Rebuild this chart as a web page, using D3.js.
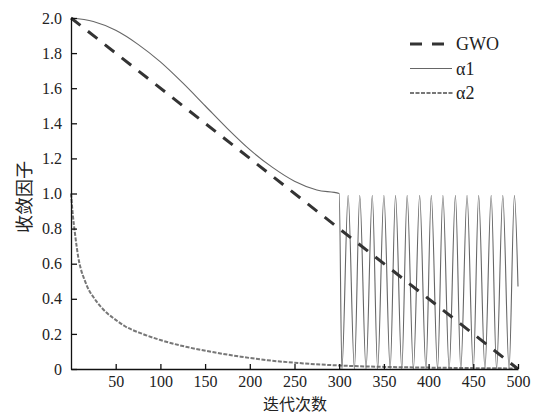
<!DOCTYPE html>
<html>
<head>
<meta charset="utf-8">
<script src="https://cdn.jsdelivr.net/npm/d3@7"></script>
<style>
  body { margin: 0; background: #fff; }
  svg { display: block; }
  .axis path, .axis line { stroke: #111; stroke-width: 1.3; }
</style>
</head>
<body>
<div id="chart"></div>
<script>
/// values
var gwoIter = [0, 500];
var gwoVal = [2.0, 0.0];

var a1Iter = [0, 25, 50, 75, 100, 125, 150, 175, 200, 225, 250, 275, 300,
    303, 310, 317, 323, 330, 337, 343, 350, 357, 363, 370, 376, 383, 390,
    397, 403, 410, 416, 423, 430, 436, 443, 450, 456, 463, 470, 476, 483,
    490, 496, 500];
var a1Val = [2.0, 1.98, 1.93, 1.85, 1.75, 1.63, 1.5, 1.37, 1.25, 1.15, 1.07, 1.02, 1.0,
    0.0, 0.99, 0.0, 0.99, 0.0, 0.99, 0.0, 0.99, 0.0, 0.99, 0.0, 0.99, 0.0, 0.99,
    0.0, 0.99, 0.0, 0.99, 0.0, 0.99, 0.0, 0.99, 0.0, 0.99, 0.0, 0.99, 0.0, 0.99,
    0.0, 0.99, 0.47];

var a2Iter = [0, 2, 4, 6, 8, 11, 15, 20, 25, 30, 40, 50, 60, 80, 100, 130, 160, 190, 220, 260, 300, 350, 400, 450, 500];
var a2Val = [1.0, 0.88, 0.79, 0.71, 0.64, 0.57, 0.51, 0.45, 0.41, 0.375, 0.32, 0.28, 0.245, 0.2, 0.165, 0.125, 0.095, 0.07, 0.05, 0.032, 0.02, 0.012, 0.008, 0.005, 0.003];

var yTicks = [0, 0.2, 0.4, 0.6, 0.8, 1.0, 1.2, 1.4, 1.6, 1.8, 2.0];
var xTicks = [50, 100, 150, 200, 250, 300, 350, 400, 450, 500];
var legendNames = ["GWO", "α1", "α2"];

/// SVG wrapper
var svgWidth = 536;
var svgHeight = 417;

var svg = d3.select("#chart")
    .append("svg")
    .attr("width", svgWidth)
    .attr("height", svgHeight);

var xScale = d3.scaleLinear().domain([0, 500]).range([71, 518]);
var yScale = d3.scaleLinear().domain([0, 2]).range([369, 18]);

function toPoints(iters, vals) {
    return iters.map(function(t, i) { return [t, vals[i]]; });
}

var line = d3.line()
    .x(d => xScale(d[0]))
    .y(d => yScale(d[1]))
    .curve(d3.curveMonotoneX);

/// curves
svg.append("path")
    .datum(toPoints(a2Iter, a2Val))
    .attr("d", line)
    .attr("fill", "none")
    .attr("stroke", "#777")
    .attr("stroke-width", 2)
    .attr("stroke-dasharray", "4,1.5");

svg.append("path")
    .datum(toPoints(a1Iter, a1Val))
    .attr("d", line)
    .attr("fill", "none")
    .attr("stroke", "#666")
    .attr("stroke-width", 1.1);

svg.append("path")
    .datum(toPoints(gwoIter, gwoVal))
    .attr("d", line)
    .attr("fill", "none")
    .attr("stroke", "#333")
    .attr("stroke-width", 3)
    .attr("stroke-dasharray", "12,9.5");

/// axes
var leftAxis = d3.axisLeft(yScale)
    .tickValues(yTicks)
    .tickSizeInner(-6)
    .tickSizeOuter(0)
    .tickPadding(9)
    .tickFormat(d => d === 0 ? "0" : d.toFixed(1));

var bottomAxis = d3.axisBottom(xScale)
    .tickValues(xTicks)
    .tickSizeInner(-5)
    .tickSizeOuter(0)
    .tickPadding(7);

var yAxis = svg.append("g")
    .attr("class", "axis")
    .attr("transform", `translate(${xScale(0)}, 0)`)
    .call(leftAxis);

var xAxis = svg.append("g")
    .attr("class", "axis")
    .attr("transform", `translate(0, ${yScale(0)})`)
    .call(bottomAxis);

[yAxis, xAxis].forEach(function(g) {
    g.attr("font-family", null).attr("font-size", null);
    g.selectAll(".tick text")
        .style("font-family", "'Liberation Serif', 'DejaVu Serif', serif")
        .style("font-size", "16px")
        .attr("fill", "#222");
});

/// axis titles
svg.append("text")
    .attr("transform", "translate(31, 197) rotate(-90)")
    .attr("text-anchor", "middle")
    .style("font-family", "'Noto Sans CJK SC', sans-serif")
    .style("font-size", "18px")
    .attr("fill", "#222")
    .text("收敛因子");

svg.append("text")
    .attr("x", 295)
    .attr("y", 410)
    .attr("text-anchor", "middle")
    .style("font-family", "'Noto Sans CJK SC', sans-serif")
    .style("font-size", "16px")
    .attr("fill", "#222")
    .text("迭代次数");

/// legend
var legendStyles = [
    {stroke: "#333", width: 3, dash: "12,10", x2: 445},
    {stroke: "#666", width: 1.1, dash: null, x2: 452},
    {stroke: "#777", width: 2, dash: "4,1.5", x2: 454}
];

var legend = svg.append("g");
legendNames.forEach(function(name, i) {
    var y = 44 + i * 24.5;
    var s = legendStyles[i];
    legend.append("line")
        .attr("x1", 410)
        .attr("x2", s.x2)
        .attr("y1", y)
        .attr("y2", y)
        .attr("stroke", s.stroke)
        .attr("stroke-width", s.width)
        .attr("stroke-dasharray", s.dash);
    legend.append("text")
        .attr("x", 456)
        .attr("y", y + 6)
        .style("font-family", "'Liberation Serif', serif")
        .style("font-size", "18px")
        .attr("fill", "#222")
        .text(name);
});
</script>
</body>
</html>
